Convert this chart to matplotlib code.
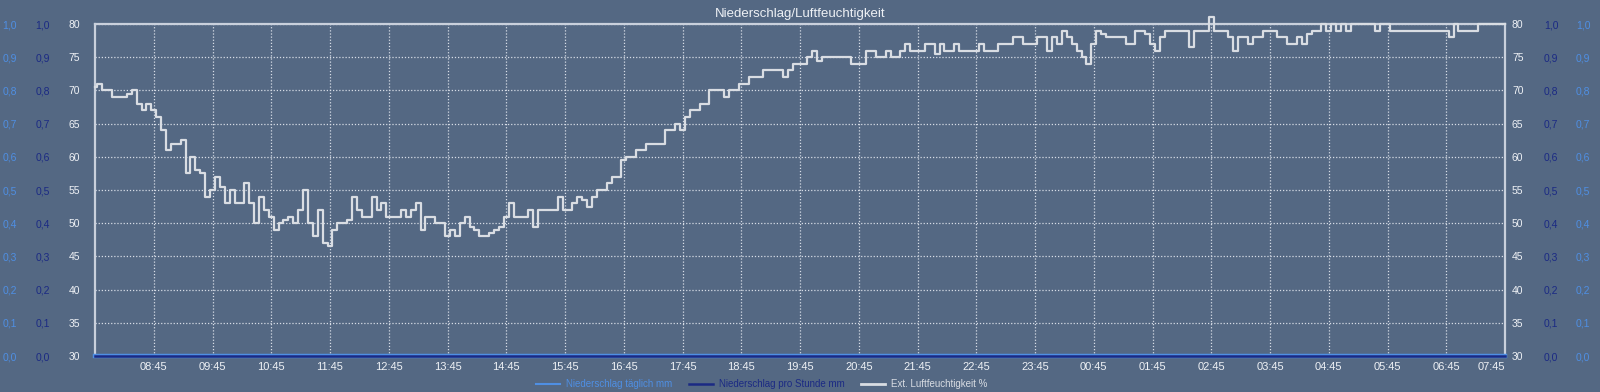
"""Niederschlag/Luftfeuchtigkeit: 24-Stunden-Verlauf als PNG."""

import matplotlib

matplotlib.use("Agg")

import matplotlib.pyplot as plt
import numpy as np

plt.rcParams["font.family"] = ["Liberation Sans", "DejaVu Sans"]

BG = "#546883"
GRID = "#d6dce6"
FRAME = "#c9d0dc"
HUM_COLOR = "#d9dde3"
DAILY_COLOR = "#4f8fe3"
HOURLY_COLOR = "#1b2a84"
TEXT = "#eef1f5"

# x-Achse: Stundenmarken ab 07:45 (linker Rand) bis 07:45 am Folgetag
HOUR_LABELS = [
    "08:45", "09:45", "10:45", "11:45", "12:45", "13:45", "14:45", "15:45",
    "16:45", "17:45", "18:45", "19:45", "20:45", "21:45", "22:45", "23:45",
    "00:45", "01:45", "02:45", "03:45", "04:45", "05:45", "06:45", "07:45",
]
SAMPLES_PER_HOUR = 12  # 5-Minuten-Werte

# Ext. Luftfeuchtigkeit in %, eine Zeile je Stunde (5-Minuten-Raster)
HUMIDITY = [
    70.5, 71, 70, 70, 69, 69, 69, 69.5, 70, 68, 67, 68,
    67, 66, 64, 61, 62, 62, 62.5, 57.5, 60, 58, 57.5, 54,
    55, 57, 55.5, 53, 55, 53, 53, 56, 53, 50, 54, 52,
    51, 49, 50, 50.5, 51, 50, 52, 55, 50, 48, 52, 47,
    46.5, 49, 50, 50, 50.5, 54, 52, 51, 51, 54, 52, 53,
    51, 51, 51, 52, 51, 52, 53, 49, 51, 51, 50, 50,
    48, 49, 48, 50, 51, 49.5, 49, 48, 48, 48.5, 49, 49.5,
    51, 53, 51, 51, 51, 52, 49.5, 52, 52, 52, 52, 54,
    52, 52, 53, 54, 53.5, 52.5, 54, 55, 55, 56, 57, 57,
    59.5, 60, 60, 61, 61, 62, 62, 62, 62, 64, 64, 65,
    64, 66, 67, 67, 68, 68, 70, 70, 70, 69, 70, 70,
    71, 71, 72, 72, 72, 73, 73, 73, 73, 72, 73, 74,
    74, 74, 75, 76, 74.5, 75, 75, 75, 75, 75, 75, 74,
    74, 74, 76, 76, 75, 75, 76, 75, 75, 76, 77, 76,
    76, 76, 77, 77, 75.5, 77, 76, 76, 77, 76, 76, 76,
    76, 77, 76, 76, 76, 77, 77, 77, 78, 78, 77, 77,
    77, 78, 78, 76, 78, 77, 79, 78, 77, 76, 75, 74,
    77, 79, 78.5, 78, 78, 78, 78, 77, 77, 79, 79, 78.5,
    77, 76, 78, 79, 79, 79, 79, 79, 76.5, 79, 79, 79,
    81, 79, 79, 79, 78, 76, 78, 78, 77, 78, 78, 79,
    79, 79, 78, 78, 77, 77, 78, 77, 78.5, 79, 79, 80,
    79, 80, 79, 80, 79, 80, 80, 80, 80, 80, 79, 80,
    80, 79, 79, 79, 79, 79, 79, 79, 79, 79, 79, 79,
    79, 78, 80, 79, 79, 79, 79, 80, 80, 80, 80, 80,
    80,
]

# Niederschlag (mm) - ueber den ganzen Tag kein Regen
RAIN_DAILY = [0.0] * len(HUMIDITY)
RAIN_HOURLY = [0.0] * len(HUMIDITY)

HUM_TICKS = [30, 35, 40, 45, 50, 55, 60, 65, 70, 75, 80]
RAIN_TICKS = [0.0, 0.1, 0.2, 0.3, 0.4, 0.5, 0.6, 0.7, 0.8, 0.9, 1.0]
RAIN_LABELS = [f"{v:.1f}".replace(".", ",") for v in RAIN_TICKS]

hours = np.arange(len(HUMIDITY)) / SAMPLES_PER_HOUR
n_hours = len(HOUR_LABELS)

fig = plt.figure(figsize=(16, 3.92), dpi=100, facecolor=BG)
ax = fig.add_axes([95 / 1600, 1 - 356 / 392, 1410 / 1600, 332 / 392])
ax.set_facecolor(BG)


def side_axis(ylim, ticks, labels, color, side, pad_px):
    """Zusaetzliche y-Achse nur fuer Beschriftung und ggf. Linie."""
    twin = ax.twinx()
    twin.set_ylim(*ylim)
    twin.set_yticks(ticks)
    if labels is not None:
        twin.set_yticklabels(labels)
    twin.yaxis.set_ticks_position(side)
    twin.tick_params(axis="y", length=0, pad=pad_px * 0.72, labelsize=7.5,
                     colors=color)
    for spine in twin.spines.values():
        spine.set_visible(False)
    return twin


ax_daily_l = side_axis((0, 1), RAIN_TICKS, RAIN_LABELS, DAILY_COLOR, "left", 78)
ax_hourly_l = side_axis((0, 1), RAIN_TICKS, RAIN_LABELS, HOURLY_COLOR, "left", 45)
side_axis((0, 1), RAIN_TICKS, RAIN_LABELS, HOURLY_COLOR, "right", 39)
side_axis((0, 1), RAIN_TICKS, RAIN_LABELS, DAILY_COLOR, "right", 71)
ax_hum = side_axis((30, 80), HUM_TICKS, None, TEXT, "right", 7)

ax_daily_l.plot(hours, RAIN_DAILY, color=DAILY_COLOR, lw=3.2, clip_on=False)
ax_hourly_l.plot(hours, RAIN_HOURLY, color=HOURLY_COLOR, lw=1.8, clip_on=False)
ax_hum.plot(hours, HUMIDITY, color=HUM_COLOR, lw=1.6, clip_on=False,
            drawstyle="steps-mid")

# Hauptachse: Raster, Rahmen, Zeitachse
ax.set_xlim(0, n_hours)
ax.set_ylim(30, 80)
ax.set_yticks(HUM_TICKS)
ax.yaxis.set_ticks_position("left")
ax.tick_params(axis="y", length=0, pad=15 * 0.72, labelsize=7.5, colors=TEXT)
ax.set_xticks(np.arange(1, n_hours + 1))
ax.set_xticklabels(HOUR_LABELS)
ax.tick_params(axis="x", length=0, pad=4, labelsize=8, colors=TEXT)
ax.get_xticklabels()[-1].set_ha("right")
ax.grid(True, color=GRID, linestyle=(0, (1, 1.5)), linewidth=0.9)
for side in ("left", "top", "right"):
    ax.spines[side].set_color(FRAME)
    ax.spines[side].set_linewidth(1.6)
ax.spines["bottom"].set_visible(False)
ax.set_axisbelow(True)

ax.set_title("Niederschlag/Luftfeuchtigkeit", color=TEXT, fontsize=9.5, pad=5)

handles = [
    plt.Line2D([], [], color=DAILY_COLOR, lw=1.5),
    plt.Line2D([], [], color=HOURLY_COLOR, lw=1.8),
    plt.Line2D([], [], color=HUM_COLOR, lw=2),
]
fig.legend(
    handles,
    ["Niederschlag täglich mm", "Niederschlag pro Stunde mm",
     "Ext. Luftfeuchtigkeit %"],
    loc="lower center",
    bbox_to_anchor=(0.476, -0.015),
    ncol=3,
    frameon=False,
    fontsize=7.0,
    handlelength=2.5,
    handletextpad=0.6,
    columnspacing=1.7,
    labelcolor=[DAILY_COLOR, HOURLY_COLOR, HUM_COLOR],
)

fig.savefig("out.png", dpi=100, facecolor=BG)
plt.close(fig)
